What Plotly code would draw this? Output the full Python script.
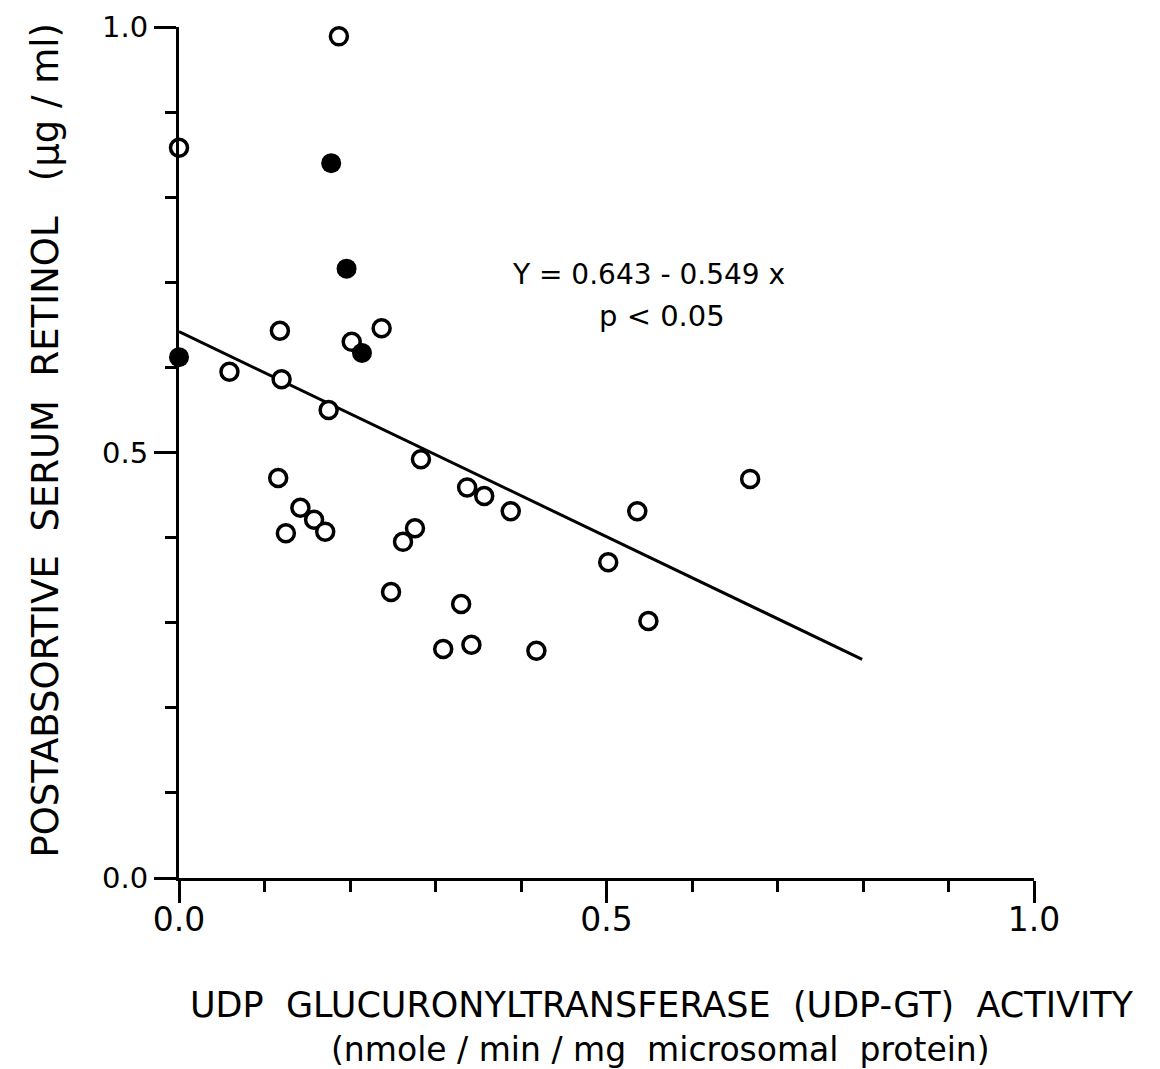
import plotly.graph_objects as go

# Open circles (UDP-GT activity, serum retinol)
open_x = [0.0, 0.187, 0.059, 0.118, 0.120, 0.175, 0.202, 0.237, 0.283, 0.116,
          0.142, 0.158, 0.171, 0.125, 0.276, 0.262, 0.337, 0.357, 0.388, 0.248,
          0.330, 0.309, 0.342, 0.418, 0.502, 0.536, 0.549, 0.668]
open_y = [0.858, 0.989, 0.595, 0.643, 0.586, 0.550, 0.630, 0.646, 0.492, 0.470,
          0.435, 0.421, 0.407, 0.405, 0.411, 0.395, 0.459, 0.449, 0.431, 0.336,
          0.322, 0.269, 0.274, 0.267, 0.371, 0.431, 0.302, 0.469]

# Filled circles
filled_x = [0.0, 0.178, 0.196, 0.214]
filled_y = [0.612, 0.840, 0.716, 0.617]

# Regression line as drawn
fit_x = [0.0, 0.799]
fit_y = [0.642, 0.257]

tick_vals = [0.0, 0.5, 1.0]
tick_text = ["0.0", "0.5", "1.0"]

FONT = "DejaVu Sans"

fig = go.Figure()
fig.add_trace(go.Scatter(x=fit_x, y=fit_y, mode="lines",
                         line=dict(color="black", width=3),
                         showlegend=False, hoverinfo="skip"))
fig.add_trace(go.Scatter(x=open_x, y=open_y, mode="markers",
                         marker=dict(symbol="circle", size=17, color="white",
                                     line=dict(color="black", width=3.5)),
                         cliponaxis=False, showlegend=False))
fig.add_trace(go.Scatter(x=filled_x, y=filled_y, mode="markers",
                         marker=dict(symbol="circle", size=20, color="black",
                                     line=dict(color="black", width=0)),
                         cliponaxis=False, showlegend=False))

axis_common = dict(
    range=[0, 1], showline=True, linecolor="black", linewidth=3,
    showgrid=False, zeroline=False, ticks="outside", ticklen=22,
    tickwidth=3, tickcolor="black", tickvals=tick_vals, ticktext=tick_text,
    minor=dict(dtick=0.1, ticks="outside", ticklen=11, tickwidth=3,
               tickcolor="black", showgrid=False),
    automargin=False, ticklabeloverflow="allow",
)

fig.update_layout(
    width=1160, height=1069,
    margin=dict(l=171, r=134, t=19, b=199, autoexpand=False),
    paper_bgcolor="white", plot_bgcolor="white",
    xaxis=dict(**axis_common, ticklabelstandoff=-12,
               tickfont=dict(family=FONT, size=33, color="black")),
    yaxis=dict(**axis_common,
               tickfont=dict(family=FONT, size=29, color="black")),
    font=dict(family=FONT, color="black"),
    annotations=[
        dict(text="Y = 0.643 - 0.549 x", x=0.549, y=0.7086, xref="paper", yref="paper",
             xanchor="center", yanchor="middle",
             showarrow=False, font=dict(family=FONT, size=28, color="black")),
        dict(text="p < 0.05", x=0.565, y=0.6604, xref="paper", yref="paper",
             xanchor="center", yanchor="middle",
             showarrow=False, font=dict(family=FONT, size=29, color="black")),
        dict(text="POSTABSORTIVE  SERUM  RETINOL   (μg / ml)", textangle=-90,
             x=-0.156, y=0.5147, xref="paper", yref="paper", showarrow=False,
             xanchor="center", yanchor="middle",
             font=dict(family=FONT, size=37, color="black")),
        dict(text="UDP  GLUCURONYLTRANSFERASE  (UDP-GT)  ACTIVITY",
             x=0.565, y=-0.1492, xref="paper", yref="paper", showarrow=False,
             xanchor="center", yanchor="middle",
             font=dict(family=FONT, size=35, color="black")),
        dict(text="(nmole / min / mg  microsomal  protein)",
             x=0.563, y=-0.2021, xref="paper", yref="paper", showarrow=False,
             xanchor="center", yanchor="middle",
             font=dict(family=FONT, size=33, color="black")),
    ],
)

fig.write_html("out.html")
